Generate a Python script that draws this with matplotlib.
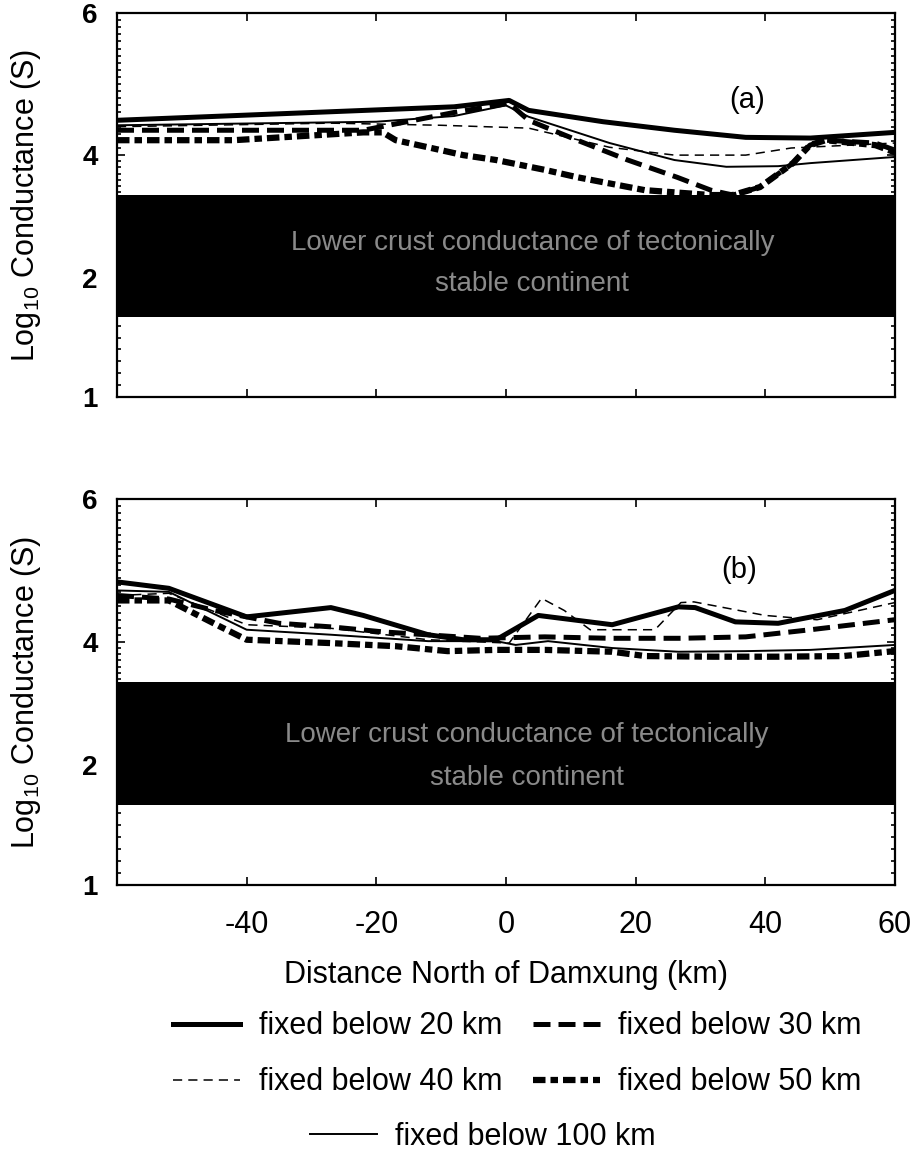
import numpy as np
import matplotlib
matplotlib.use('Agg')
import matplotlib.pyplot as plt
from matplotlib.ticker import FixedLocator

plt.rcParams['font.family'] = ['Liberation Sans', 'DejaVu Sans']
plt.rcParams['axes.unicode_minus'] = False

# distance north of Damxung (km)
x_ticks = [-40, -20, 0, 20, 40, 60]
y_ticks = [1, 2, 4, 6]
y_tick_pos = [0.0, 0.31, 0.63, 1.0]   # the original axis is not evenly spaced

# lower crust band (stable continent)
band_lo, band_hi = 1.67, 3.35

# panel (a)
a20_x = [-60, -8, 0.5, 3.5, 15, 26, 37, 47, 60]
a20_y = [4.49, 4.68, 4.77, 4.63, 4.47, 4.35, 4.25, 4.24, 4.32]
a30_x = [-60, -22, -8, 0.5, 3.5, 11, 18.8, 26.4, 31.6, 35, 39.2, 44.3, 46.9, 49.3, 57, 60]
a30_y = [4.35, 4.35, 4.60, 4.73, 4.49, 4.21, 3.92, 3.64, 3.43, 3.35, 3.48, 3.87, 4.14, 4.21, 4.17, 4.07]
a40_x = [-60, -27, -10, 3.5, 16, 26, 37, 44, 60]
a40_y = [4.40, 4.45, 4.42, 4.38, 4.11, 4.00, 4.00, 4.10, 4.17]
a50_x = [-60, -42, -22, -19, -17, -12, -6.6, -1.5, 6, 11, 21.4, 31.6, 35, 39.2, 44.3, 46.9, 49.3, 57, 60]
a50_y = [4.21, 4.21, 4.32, 4.32, 4.21, 4.11, 4.00, 3.92, 3.76, 3.64, 3.43, 3.35, 3.35, 3.48, 3.87, 4.14, 4.21, 4.14, 4.04]
a100_x = [-60, -20, -8, 0, 3.5, 16, 26, 34, 42, 47, 60]
a100_y = [4.42, 4.47, 4.55, 4.70, 4.54, 4.17, 3.92, 3.81, 3.82, 3.87, 3.97]

# panel (b)
b20_x = [-60, -52, -40, -27, -22, -12, -6.6, -1.5, 5, 16.4, 26.6, 29.2, 35.4, 42, 52.3, 60]
b20_y = [4.84, 4.75, 4.35, 4.48, 4.37, 4.10, 4.03, 4.03, 4.37, 4.24, 4.49, 4.48, 4.28, 4.26, 4.44, 4.72]
b30_x = [-60, -52, -45, -35, -27, -19, -4, 6, 16, 27, 37, 47, 60]
b30_y = [4.65, 4.60, 4.44, 4.26, 4.21, 4.14, 4.05, 4.07, 4.05, 4.05, 4.07, 4.17, 4.31]
b40_x = [-60, -52, -40, -27, -12, 0.5, 5.5, 9, 13, 23, 27, 29, 40, 48, 60]
b40_y = [4.65, 4.68, 4.24, 4.19, 4.03, 3.98, 4.61, 4.44, 4.17, 4.17, 4.55, 4.56, 4.37, 4.31, 4.55]
b50_x = [-60, -52, -44, -40, -27, -17, -9, -1.5, 6, 16.4, 21.5, 32, 42, 52, 60]
b50_y = [4.58, 4.58, 4.21, 4.03, 3.98, 3.93, 3.85, 3.87, 3.87, 3.84, 3.77, 3.76, 3.76, 3.77, 3.85]
b100_x = [-60, -52, -40, -27, -12, -1.5, 1.5, 6.5, 16.4, 26.6, 37, 47, 60]
b100_y = [4.72, 4.70, 4.17, 4.10, 4.01, 4.01, 3.95, 4.01, 3.90, 3.84, 3.85, 3.87, 3.95]

labels = ['fixed below 20 km', 'fixed below 30 km', 'fixed below 40 km',
          'fixed below 50 km', 'fixed below 100 km']
band_text = ['Lower crust conductance of tectonically', 'stable continent']


def fwd(v):
    v = np.asarray(v, dtype=float)
    out = np.interp(v, y_ticks, y_tick_pos)
    out = np.where(v < 1, (v - 1) * 0.31, out)
    out = np.where(v > 6, 1.0 + (v - 6) * 0.185, out)
    return out


def inv(p):
    p = np.asarray(p, dtype=float)
    out = np.interp(p, y_tick_pos, y_ticks)
    out = np.where(p < 0, 1 + p / 0.31, out)
    out = np.where(p > 1, 6 + (p - 1) / 0.185, out)
    return out


styles = [
    dict(lw=3.6, ls='-'),
    dict(lw=3.6, ls=(0, (3.4, 1.6))),
    dict(lw=1.1, ls=(0, (6, 4))),
    dict(lw=4.5, ls=(0, (2.0, 0.8, 1.2, 0.8))),
    dict(lw=1.4, ls='-'),
]

fig = plt.figure(figsize=(9.14, 11.63), dpi=100)
ax_a = fig.add_axes([0.128, 0.6586, 0.851, 0.3302])
ax_b = fig.add_axes([0.128, 0.239, 0.851, 0.3319])

panels = [
    (ax_a, [(a20_x, a20_y), (a30_x, a30_y), (a40_x, a40_y), (a50_x, a50_y), (a100_x, a100_y)], '(a)', (0.81, 0.773), (0.534, 0.401, 0.294)),
    (ax_b, [(b20_x, b20_y), (b30_x, b30_y), (b40_x, b40_y), (b50_x, b50_y), (b100_x, b100_y)], '(b)', (0.80, 0.816), (0.527, 0.389, 0.277)),
]

handles = []
for ax, series, tag, tag_xy, txt_xy in panels:
    ax.set_yscale('function', functions=(fwd, inv))
    ax.set_xlim(-60, 60)
    ax.set_ylim(1, 6)
    ax.axhspan(band_lo, band_hi, color='black', lw=0, zorder=1)
    hs = []
    for (xs, ys), st, lab in zip(series, styles, labels):
        h, = ax.plot(xs, ys, color='black', zorder=3, label=lab,
                     solid_joinstyle='round', dash_capstyle='butt', **st)
        hs.append(h)
    handles = hs
    ax.text(tag_xy[0], tag_xy[1], tag, transform=ax.transAxes, fontsize=21,
            ha='center', va='center')
    ax.text(txt_xy[0], txt_xy[1], band_text[0], transform=ax.transAxes, fontsize=20,
            color='#8a8a8a', ha='center', va='center', zorder=4)
    ax.text(txt_xy[0], txt_xy[2], band_text[1], transform=ax.transAxes, fontsize=20,
            color='#8a8a8a', ha='center', va='center', zorder=4)

    ax.yaxis.set_major_locator(FixedLocator(y_ticks))
    ax.yaxis.set_minor_locator(FixedLocator(np.arange(1, 6, 0.1)))
    ax.set_yticklabels([str(t) for t in y_ticks], fontsize=20, fontweight='bold')
    ax.set_xticks(x_ticks)
    ax.xaxis.set_minor_locator(FixedLocator([]))
    ax.tick_params(which='both', direction='in', top=True, right=True, width=1.2)
    ax.tick_params(which='major', length=6)
    ax.tick_params(which='minor', length=3)
    ax.tick_params(axis='y', pad=14)
    ax.tick_params(axis='x', pad=18, labelsize=22)
    for s in ax.spines.values():
        s.set_linewidth(1.6)
    ax.set_ylabel('Log$_{\\mathregular{10}}$ Conductance (S)', fontsize=22)
    ax.yaxis.set_label_coords(-0.095, 0.5)

ax_a.set_xticklabels([])
ax_b.set_xlabel('Distance North of Damxung (km)', fontsize=22, va='top')
ax_b.xaxis.set_label_coords(0.5, -0.195)

leg1 = fig.legend([handles[0], handles[2], handles[1], handles[3]],
                  [labels[0], labels[2], labels[1], labels[3]],
                  ncol=2, loc='center', bbox_to_anchor=(0.566, 0.0935),
                  frameon=False, fontsize=22, handlelength=2.2,
                  handletextpad=0.6, columnspacing=1.0, labelspacing=0.85)
leg2 = fig.legend([handles[4]], [labels[4]], loc='center',
                  bbox_to_anchor=(0.528, 0.0224), frameon=False, fontsize=22,
                  handlelength=2.2, handletextpad=0.6)

fig.savefig('out.png', dpi=100)
